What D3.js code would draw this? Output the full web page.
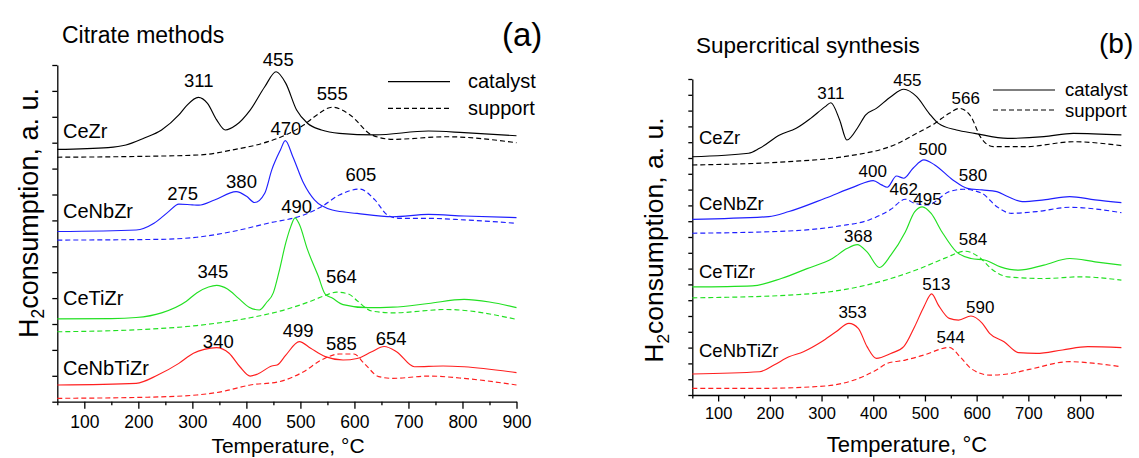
<!DOCTYPE html>
<html lang="en">
<head>
<meta charset="utf-8">
<title>H2-TPR profiles</title>
<script src="https://d3js.org/d3.v7.min.js"></script>
<style>
  body { margin: 0; background: #fff; }
  svg { display: block; font-family: "Liberation Sans", Arial, sans-serif; }
  .axis path, .axis line { stroke: #000; stroke-width: 1.3; }
  .axis text { fill: #000; }
  .curve { fill: none; stroke-width: 1.15; }
  .dash { stroke-dasharray: 5,3; }
</style>
</head>
<body>
<div id="chart"></div>
<script>
var w = 1139, h = 458;

// samples and their colours
var samples = ["CeZr", "CeNbZr", "CeTiZr", "CeNbTiZr"];
var colors = ["#000000", "#1f1fff", "#22e022", "#ff1f1f"];

// (a) citrate methods: [temperature, signal in y tick units]
var cezrCatA = [[50,9.74],[144,9.81],[177,9.91],[210,10.17],[243,10.49],[275,11.07],[289,11.42],[311,11.75],[328,11.52],[345,10.88],[361,10.49],[381,10.68],[407,11.26],[434,12.16],[455,12.74],[473,12.29],[493,11.26],[513,10.75],[539,10.49],[572,10.36],[638,10.30],[737,10.45],[803,10.39],[900,10.27]];
var cezrSupA = [[50,9.44],[200,9.47],[315,9.53],[374,9.72],[440,10.04],[473,10.30],[506,10.68],[526,11.0],[559,11.37],[592,11.07],[632,10.30],[671,10.13],[770,10.23],[900,10.0]];
var cenbzrCatA = [[50,6.57],[196,6.63],[229,6.89],[256,7.34],[275,7.63],[300,7.6],[312,7.59],[341,7.79],[381,8.11],[401,7.92],[415,7.69],[434,8.05],[447,8.95],[463,9.72],[472,10.08],[486,9.46],[506,8.43],[526,7.79],[559,7.40],[605,7.27],[671,7.14],[737,7.23],[803,7.17],[900,7.11]];
var cenbzrSupA = [[50,6.24],[243,6.27],[308,6.35],[374,6.57],[440,6.89],[506,7.21],[539,7.53],[572,7.98],[610,8.21],[638,7.79],[661,7.21],[684,7.08],[737,7.08],[803,7.02],[900,6.89]];
var cetizrCatA = [[50,3.2],[150,3.21],[196,3.25],[243,3.43],[289,3.88],[308,4.2],[330,4.43],[345,4.49],[365,4.35],[385,4.0],[405,3.65],[424,3.54],[437,3.82],[450,4.21],[460,4.98],[473,6.14],[482,6.75],[490,7.1],[498,6.85],[513,5.88],[533,4.85],[546,4.15],[559,4.0],[579,3.75],[625,3.63],[671,3.65],[737,3.79],[803,3.95],[850,3.85],[900,3.63]];
var cetizrSupA = [[50,2.70],[210,2.79],[308,2.94],[407,3.24],[473,3.56],[519,3.88],[543,4.08],[567,4.23],[590,4.15],[605,3.9],[632,3.5],[671,3.43],[770,3.56],[900,3.18]];
var cenbtizrCatA = [[50,0.645],[196,0.71],[236,1.03],[275,1.48],[302,1.87],[322,2.02],[345,2.09],[368,1.87],[388,1.35],[407,0.99],[421,1.07],[447,1.38],[457,1.42],[473,1.80],[498,2.32],[519,2.06],[546,1.74],[579,1.61],[605,1.67],[632,1.93],[655,2.13],[678,1.93],[711,1.35],[764,1.38],[803,1.35],[900,1.12]];
var cenbtizrSupA = [[50,0.13],[210,0.17],[308,0.26],[355,0.39],[407,0.645],[460,0.77],[506,1.16],[539,1.61],[572,1.84],[599,1.84],[618,1.48],[645,0.97],[671,0.90],[737,0.99],[803,0.90],[900,0.645]];

var peakTextA = ["311","455","555","470","275","380","605","490","345","564","340","499","585","654"];
var peakTempA = [312,459,559,473,282,391,612,493,338,576,348,496,576,668];
var peakLevelA = [12.14,12.97,11.65,10.30,7.79,8.26,8.53,7.29,4.78,4.59,2.06,2.51,2.0,2.19];
var sampleLevelA = [10.17, 7.08, 3.73, 1.05];

// (b) supercritical synthesis
var cezrCatB = [[50,15.08],[159,15.30],[180,15.61],[219,16.46],[251,16.88],[279,17.51],[307,18.25],[318,18.5],[335,17.41],[349,16.14],[371,16.98],[385,17.72],[406,18.14],[434,18.88],[459,19.35],[484,18.88],[508,17.83],[526,17.19],[561,16.77],[596,16.56],[660,16.24],[730,16.35],[787,16.56],[880,16.46]];
var cezrSupB = [[50,14.56],[237,14.77],[342,15.08],[448,15.93],[484,16.56],[519,17.19],[547,17.83],[567,18.14],[589,17.62],[607,16.35],[632,15.72],[695,15.72],[787,16.03],[880,15.78]];
var cenbzrCatB = [[50,11.12],[198,11.29],[237,11.61],[307,12.45],[364,13.19],[400,13.57],[416,13.30],[427,13.15],[445,13.86],[459,13.72],[477,14.35],[498,14.88],[519,14.56],[554,13.61],[582,13.08],[610,12.98],[639,12.87],[660,12.56],[688,12.24],[730,12.35],[780,12.56],[829,12.35],[880,12.18]];
var cenbzrSupB = [[50,10.24],[237,10.38],[335,10.70],[392,11.08],[434,11.75],[462,12.39],[480,12.13],[505,12.03],[547,12.87],[575,13.02],[610,12.77],[639,11.92],[667,11.50],[716,11.61],[780,11.88],[880,11.54]];
var cetizrCatB = [[50,6.84],[166,6.91],[222,7.37],[272,8.0],[321,8.64],[349,9.27],[369,9.52],[388,9.06],[412,8.07],[434,8.85],[462,10.32],[480,11.59],[495,11.91],[512,11.49],[533,10.32],[561,9.06],[589,8.64],[617,8.53],[646,8.11],[681,7.90],[730,8.22],[780,8.64],[829,8.43],[880,8.22]];
var cetizrSupB = [[50,6.15],[237,6.32],[349,6.70],[434,7.37],[490,8.0],[540,8.68],[578,9.10],[604,8.74],[632,7.90],[660,7.48],[730,7.37],[801,7.48],[880,7.27]];
var cenbtizrCatB = [[50,1.33],[180,1.47],[208,1.90],[237,2.42],[265,2.74],[300,3.37],[328,4.0],[353,4.53],[371,4.22],[388,3.06],[406,2.32],[434,2.63],[459,3.06],[480,4.32],[498,5.59],[513,6.40],[526,5.69],[547,4.85],[565,4.74],[589,5.0],[611,4.53],[625,3.90],[653,3.37],[681,2.68],[716,2.63],[766,2.85],[815,3.06],[880,3.0]];
var cenbtizrSupB = [[50,0.42],[180,0.42],[307,0.57],[363,0.95],[406,1.58],[427,2.0],[462,2.21],[498,2.53],[547,3.01],[568,2.42],[589,1.68],[625,1.26],[660,1.33],[702,1.62],[780,2.11],[829,2.0],[880,1.79]];

var peakTextB = ["311","455","566","500","400","462","580","495","368","584","513","353","590","544"];
var peakTempB = [318,466,579,515,399,459,593,505,371,593,522,360,607,550];
var peakLevelB = [18.73,19.56,18.40,15.19,13.82,12.66,13.56,12.01,9.69,9.48,6.65,4.85,5.17,3.31];
var sampleLevelB = [15.9, 11.74, 7.41, 2.42];

var majorA = d3.range(100, 901, 100), minorA = d3.range(50, 900, 100);
var majorB = d3.range(100, 801, 100), minorB = d3.range(50, 851, 100);

var panels = [
  {
    x: d3.scaleLinear().domain([50, 900]).range([57.3, 516.5]),
    y: d3.scaleLinear().domain([0, 13]).range([401.7, 65]),
    yTicks: d3.range(0, 14), yTick: 5,
    major: majorA, minor: minorA, tickFont: 17.5, tickPad: 6.8, tickMajor: 7,
    cat: [cezrCatA, cenbzrCatA, cetizrCatA, cenbtizrCatA],
    sup: [cezrSupA, cenbzrSupA, cetizrSupA, cenbtizrSupA],
    peakText: peakTextA, peakTemp: peakTempA, peakLevel: peakLevelA, peakFont: 18.5,
    sampleLevel: sampleLevelA, sampleX: 63, sampleFont: 20,
    title: "Citrate methods", titleX: 62, titleY: 43, titleFont: 23,
    tag: "(a)", tagX: 502, tagY: 46, tagFont: 33,
    legX: 388, legX2: 450, legTx: 468, legY: [81.7, 108.3], legTy: [87.5, 115], legFont: 20,
    xTitleX: 288, xTitleY: 453, xTitleFont: 21,
    yTitleX: 38, yTitleY: 213, yTitleFont: 27
  },
  {
    x: d3.scaleLinear().domain([50, 880]).range([692.3, 1121.4]),
    y: d3.scaleLinear().domain([0, 20]).range([395, 79]),
    yTicks: d3.range(0, 21), yTick: 4,
    major: majorB, minor: minorB, tickFont: 16.5, tickPad: 6.2, tickMajor: 6.5,
    cat: [cezrCatB, cenbzrCatB, cetizrCatB, cenbtizrCatB],
    sup: [cezrSupB, cenbzrSupB, cetizrSupB, cenbtizrSupB],
    peakText: peakTextB, peakTemp: peakTempB, peakLevel: peakLevelB, peakFont: 17,
    sampleLevel: sampleLevelB, sampleX: 699, sampleFont: 18.5,
    title: "Supercritical synthesis", titleX: 696, titleY: 53, titleFont: 22.5,
    tag: "(b)", tagX: 1099, tagY: 53, tagFont: 28,
    legX: 993, legX2: 1055, legTx: 1065, legY: [90, 110], legTy: [96, 116.5], legFont: 18.5,
    xTitleX: 907, xTitleY: 452, xTitleFont: 22,
    yTitleX: 663, yTitleY: 240, yTitleFont: 26.5
  }
];

var svg = d3.select("#chart").append("svg")
  .attr("width", w)
  .attr("height", h);

panels.forEach(function(p) {
  var g = svg.append("g");
  var y0 = p.y.range()[0];

  // x axis, major and minor ticks
  var xa = g.append("g").attr("class", "axis")
    .attr("transform", "translate(0," + y0 + ")")
    .call(d3.axisBottom(p.x).tickValues(p.major).tickSize(p.tickMajor)
      .tickSizeOuter(0).tickPadding(p.tickPad));
  xa.attr("font-family", null).attr("font-size", p.tickFont);

  g.append("g").attr("class", "axis")
    .attr("transform", "translate(0," + y0 + ")")
    .call(d3.axisBottom(p.x).tickValues(p.minor).tickSize(3.5)
      .tickSizeOuter(0).tickFormat(""))
    .select(".domain").remove();

  // y axis, no labels
  g.append("g").attr("class", "axis")
    .attr("transform", "translate(" + p.x.range()[0] + ",0)")
    .call(d3.axisLeft(p.y).tickValues(p.yTicks).tickSize(p.yTick)
      .tickSizeOuter(0).tickFormat(""));

  var line = d3.line()
    .x(function(d) { return p.x(d[0]); })
    .y(function(d) { return p.y(d[1]); })
    .curve(d3.curveMonotoneX);

  samples.forEach(function(s, i) {
    g.append("path").attr("class", "curve dash")
      .attr("stroke", colors[i]).attr("d", line(p.sup[i]));
    g.append("path").attr("class", "curve")
      .attr("stroke", colors[i]).attr("d", line(p.cat[i]));

    g.append("text")
      .attr("x", p.sampleX)
      .attr("y", p.y(p.sampleLevel[i]))
      .attr("font-size", p.sampleFont)
      .text(s);
  });

  // peak temperatures
  g.selectAll(".peak")
    .data(p.peakText)
    .enter()
    .append("text")
    .attr("class", "peak")
    .attr("text-anchor", "middle")
    .attr("font-size", p.peakFont)
    .attr("x", function(d, i) { return p.x(p.peakTemp[i]); })
    .attr("y", function(d, i) { return p.y(p.peakLevel[i]); })
    .text(function(d) { return d; });

  // legend
  ["catalyst", "support"].forEach(function(name, i) {
    g.append("line")
      .attr("x1", p.legX).attr("x2", p.legX2)
      .attr("y1", p.legY[i]).attr("y2", p.legY[i])
      .attr("stroke", "#000").attr("stroke-width", 1.2)
      .attr("stroke-dasharray", i ? "5,3" : null);
    g.append("text")
      .attr("x", p.legTx).attr("y", p.legTy[i])
      .attr("font-size", p.legFont)
      .text(name);
  });

  g.append("text")
    .attr("x", p.titleX).attr("y", p.titleY)
    .attr("font-size", p.titleFont)
    .text(p.title);

  g.append("text")
    .attr("x", p.tagX).attr("y", p.tagY)
    .attr("font-size", p.tagFont)
    .text(p.tag);

  g.append("text")
    .attr("x", p.xTitleX).attr("y", p.xTitleY)
    .attr("text-anchor", "middle")
    .attr("font-size", p.xTitleFont)
    .text("Temperature, \u00B0C");

  var yt = g.append("text")
    .attr("transform", "translate(" + p.yTitleX + "," + p.yTitleY + ") rotate(-90)")
    .attr("text-anchor", "middle")
    .attr("font-size", p.yTitleFont);
  yt.append("tspan").text("H");
  yt.append("tspan").attr("font-size", p.yTitleFont * 0.65).attr("dy", "0.35em").text("2");
  yt.append("tspan").attr("dy", "-0.23em").text("consumption, a. u.");
});
</script>
</body>
</html>
